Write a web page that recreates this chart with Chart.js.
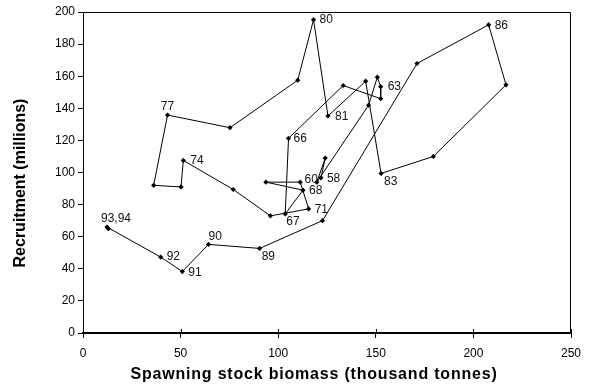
<!DOCTYPE html>
<html><head><meta charset="utf-8">
<script src="https://cdn.jsdelivr.net/npm/chart.js@4/dist/chart.umd.min.js"></script>
<style>html,body{margin:0;padding:0;background:#fff}#wrap{width:590px;height:392px}</style>
</head><body><div id="wrap"><canvas id="c" width="590" height="392"></canvas></div>
<script>
// Year of each point (1958-1994)
const years = [1958,1959,1960,1961,1962,1963,1964,1965,1966,1967,1968,1969,1970,1971,1972,1973,1974,1975,1976,1977,1978,1979,1980,1981,1982,1983,1984,1985,1986,1987,1988,1989,1990,1991,1992,1993,1994];
// Spawning stock biomass (thousand tonnes)
const biomass = [121.9,124.1,119.8,146.3,150.8,152.5,152.5,133.3,105.3,103.6,112.7,93.7,111.3,115.6,96.0,77.0,51.4,50.2,36.2,43.3,75.3,110.0,118.1,125.5,144.8,152.7,179.5,216.7,207.8,171.1,122.7,90.5,64.3,50.9,39.8,12.3,13.0];
// Recruitment (millions)
const recruitment = [96.7,109.0,94.0,141.9,159.4,153.5,146.0,154.2,121.3,74.2,89.0,94.0,94.0,77.3,73.0,89.4,107.5,91.0,92.0,135.8,127.9,157.5,195.2,135.2,156.9,99.4,110.0,154.6,192.0,167.9,70.0,52.7,55.2,38.3,47.3,66.0,65.0];
// Point labels ('' = no label)
const pointLabels = ['58','','60','','','63','','','66','67','68','','','71','','','74','','','77','','','80','81','','83','','','86','','','89','90','91','92','93,94',''];
// Axis ticks and titles
const xTicks = [0,50,100,150,200,250];
const yTicks = [0,20,40,60,80,100,120,140,160,180,200];
const xTitle = 'Spawning stock biomass (thousand tonnes)';
const yTitle = 'Recruitment (millions)';

// label placement (style only)
const labelPlacement = {
  '58':{dx:6,dy:1,align:'left'}, '60':{dx:1,dy:-2,align:'right'}, '63':{dx:7,dy:0,align:'left'},
  '66':{dx:5,dy:0,align:'left'}, '67':{dx:1,dy:8,align:'left'}, '68':{dx:6,dy:1,align:'left'},
  '71':{dx:6,dy:1,align:'left'}, '74':{dx:7,dy:0,align:'left'}, '77':{dx:0,dy:-8,align:'center'},
  '80':{dx:6,dy:0,align:'left'}, '81':{dx:7,dy:1,align:'left'}, '83':{dx:3,dy:8,align:'left'},
  '86':{dx:6,dy:1,align:'left'}, '89':{dx:2,dy:8,align:'left'}, '90':{dx:0,dy:-8,align:'left'},
  '91':{dx:6,dy:1,align:'left'}, '92':{dx:6,dy:0,align:'left'}, '93,94':{dx:9,dy:-8,align:'center'}
};

const FONT = '"Liberation Sans", Arial, sans-serif';

const decor = {
  id:'decor',
  afterDatasetsDraw(chart){
    const {ctx, chartArea:a, scales:{x}} = chart;
    ctx.save();
    ctx.strokeStyle='#000'; ctx.lineWidth=1;
    ctx.beginPath();
    ctx.moveTo(a.left, a.top+0.5); ctx.lineTo(a.right-0.5, a.top+0.5); ctx.lineTo(a.right-0.5, a.bottom);
    ctx.stroke();
    xTicks.forEach(v=>{
      const px=Math.round(x.getPixelForValue(v))+0.5;
      ctx.beginPath(); ctx.moveTo(px,a.bottom); ctx.lineTo(px,a.bottom-4); ctx.stroke();
    });
    const meta = chart.getDatasetMeta(0);
    ctx.font='12px '+FONT; ctx.fillStyle='#111'; ctx.textBaseline='middle';
    pointLabels.forEach((t,i)=>{
      if(!t) return;
      const el=meta.data[i];
      const o=labelPlacement[t]||{dx:6,dy:0,align:'left'};
      ctx.textAlign=o.align;
      ctx.fillText(t, el.x+o.dx, el.y+o.dy);
    });
    ctx.restore();
  },
  afterDraw(chart){
    const {ctx} = chart;
    ctx.save();
    ctx.fillStyle='#000'; ctx.textAlign='center'; ctx.textBaseline='middle';
    ctx.font='bold 16px '+FONT;
    if ('letterSpacing' in ctx) ctx.letterSpacing='0.8px';
    ctx.fillText(xTitle, 314, 375);
    if ('letterSpacing' in ctx) ctx.letterSpacing='0px';
    ctx.translate(21, 183);
    ctx.rotate(-Math.PI/2);
    ctx.fillText(yTitle, 0, 0);
    ctx.restore();
  }
};

new Chart(document.getElementById('c'), {
  type:'scatter',
  data:{
    datasets:[{
      label:'Stock-recruitment',
      data: years.map((yr,i)=>({x:biomass[i], y:recruitment[i]})),
      showLine:true,
      borderColor:'#000', borderWidth:1, tension:0,
      pointStyle:'rectRot', pointRadius:2.6, pointHoverRadius:2.6,
      pointBackgroundColor:'#000', pointBorderColor:'#000', pointBorderWidth:0
    }]
  },
  options:{
    responsive:false, animation:false, devicePixelRatio:1,
    layout:{padding:{top:12,right:19,left:0,bottom:0}},
    plugins:{legend:{display:false}, tooltip:{enabled:false}},
    scales:{
      x:{
        type:'linear', min:0, max:250,
        afterBuildTicks(s){ s.ticks = xTicks.map(v=>({value:v})); },
        ticks:{color:'#000', font:{family:FONT,size:12}, padding:8, maxRotation:0},
        grid:{drawOnChartArea:false, drawTicks:true, tickLength:5, color:'#000', lineWidth:1},
        border:{display:true, color:'#000', width:2},
        title:{display:false, text:xTitle},
        afterFit(s){ s.height = 59; }
      },
      y:{
        type:'linear', min:0, max:200,
        afterBuildTicks(s){ s.ticks = yTicks.map(v=>({value:v})); },
        ticks:{color:'#000', font:{family:FONT,size:12}, padding:3},
        grid:{drawOnChartArea:false, drawTicks:true, tickLength:5, color:'#000', lineWidth:1},
        border:{display:true, color:'#000', width:1},
        title:{display:false, text:yTitle},
        afterFit(s){ s.width = 83; }
      }
    }
  },
  plugins:[decor]
});
</script></body></html>
